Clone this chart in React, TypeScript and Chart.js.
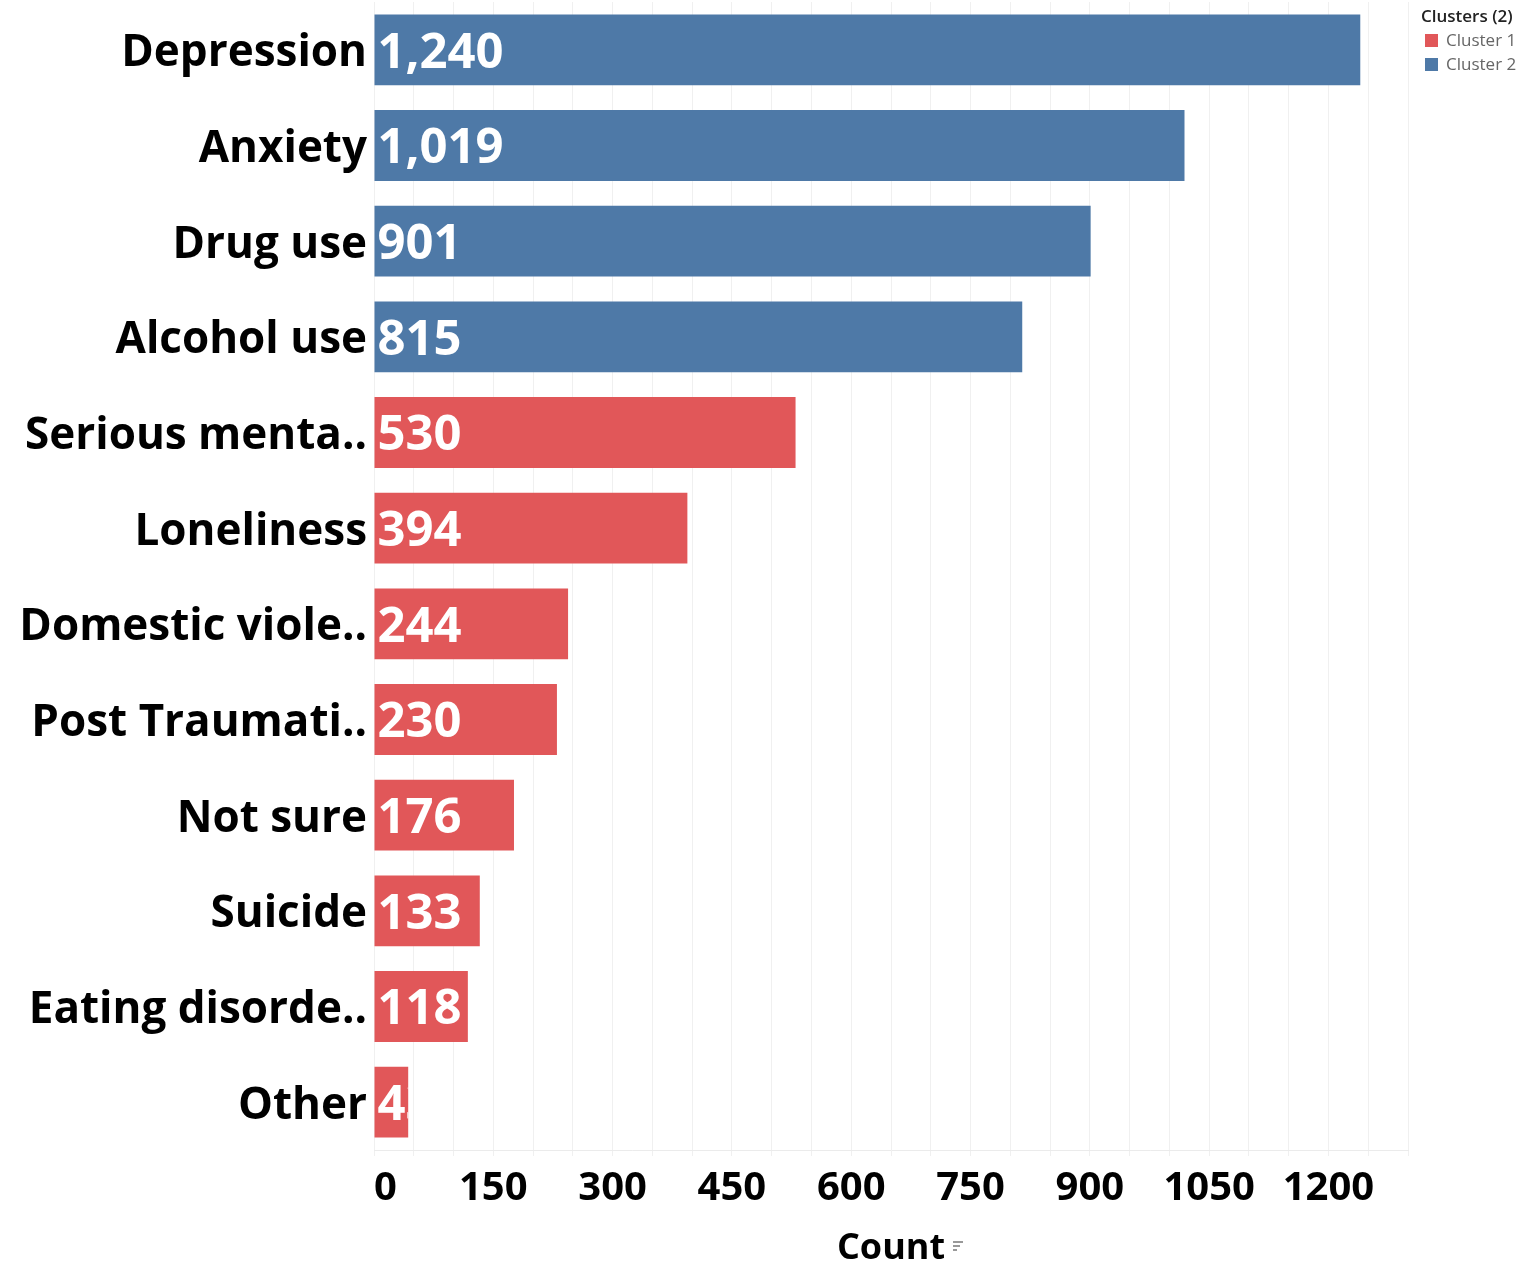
import React, { useEffect, useRef } from "react";
import { Chart, registerables } from "chart.js";

Chart.register(...registerables);

const categories = [
  "Depression",
  "Anxiety",
  "Drug use",
  "Alcohol use",
  "Serious menta..",
  "Loneliness",
  "Domestic viole..",
  "Post Traumati..",
  "Not sure",
  "Suicide",
  "Eating disorde..",
  "Other",
];
const counts = [1240, 1019, 901, 815, 530, 394, 244, 230, 176, 133, 118, 43];
const clusters = [2, 2, 2, 2, 1, 1, 1, 1, 1, 1, 1, 1];
const clusterNames = ["Cluster 1", "Cluster 2"];
const clusterColors = ["#e15759", "#4e79a7"];
const xTickLabels = [0, 150, 300, 450, 600, 750, 900, 1050, 1200];

const FONT = "'Open Sans', 'Noto Sans', sans-serif";

const labelPlugin = {
  id: "barLabels",
  afterDatasetsDraw(chart: any) {
    const ctx = chart.ctx;
    const meta = chart.getDatasetMeta(0);
    const yScale = chart.scales.y;
    // category labels
    ctx.save();
    ctx.fillStyle = "#000";
    ctx.font = `bold 44px ${FONT}`;
    ctx.textAlign = "right";
    ctx.textBaseline = "middle";
    categories.forEach((c, i) => {
      ctx.fillText(c, yScale.right - 7, yScale.getPixelForValue(i) + 4);
    });
    ctx.restore();
    // value labels
    meta.data.forEach((bar: any, i: number) => {
      const { x, y, base, height } = bar.getProps(["x", "y", "base", "height"], true);
      const left = Math.min(x, base);
      const right = Math.max(x, base);
      ctx.save();
      ctx.beginPath();
      ctx.rect(left, y - height / 2, right - left, height);
      ctx.clip();
      ctx.fillStyle = "#ffffff";
      ctx.font = `bold 49px ${FONT}`;
      ctx.textAlign = "left";
      ctx.textBaseline = "middle";
      ctx.fillText(counts[i].toLocaleString("en-US"), left + 3, y + 4);
      ctx.restore();
    });
  },
};

export default function App() {
  const ref = useRef<HTMLCanvasElement>(null);
  useEffect(() => {
    if (!ref.current) return;
    const chart = new Chart(ref.current, {
      type: "bar",
      data: {
        labels: categories,
        datasets: [
          {
            data: counts,
            backgroundColor: clusters.map((c) => clusterColors[c - 1]),
            barPercentage: 0.74,
            categoryPercentage: 1,
          },
        ],
      },
      options: {
        indexAxis: "y",
        animation: false,
        responsive: false,
        maintainAspectRatio: false,
        layout: { padding: { top: 2, right: 118, left: 0, bottom: 0 } },
        plugins: { legend: { display: false }, tooltip: { enabled: false } },
        scales: {
          x: {
            min: 0,
            max: 1300,
            ticks: {
              stepSize: 50,
              autoSkip: false,
              maxRotation: 0,
              align: "inner",
              color: "#000",
              font: { family: FONT, size: 40, weight: "bold" },
              padding: 9,
              callback: (v: any) => (xTickLabels.includes(Number(v)) ? String(v) : ""),
            },
            grid: { color: "#f0f0f0", tickLength: 6, drawTicks: true },
            border: { color: "#ebebeb" },
            title: {
              display: true,
              text: "Count",
              color: "#000",
              font: { family: FONT, size: 36, weight: "bold" },
              padding: { top: 0, bottom: -6 },
            },
            afterFit: (s: any) => {
              s.height = 114;
              s.paddingLeft = 0;
              s.paddingRight = 0;
            },
          },
          y: {
            ticks: {
              display: false,
            },
            grid: { display: false, drawTicks: false },
            border: { display: false },
            afterFit: (s: any) => {
              s.width = 374;
              s.paddingTop = 0;
              s.paddingBottom = 0;
            },
          },
        },
      },
      plugins: [labelPlugin],
    });
    return () => chart.destroy();
  }, []);

  return (
    <div style={{ position: "absolute", left: 0, top: 0, width: 1526, height: 1264, background: "#fff" }}>
      <canvas ref={ref} width={1526} height={1264} style={{ width: 1526, height: 1264 }} />
      <div
        style={{
          position: "absolute",
          left: 1421,
          top: 4,
          fontFamily: FONT,
          fontSize: 17,
          color: "#333",
          lineHeight: "24px",
        }}
      >
        <div style={{ fontWeight: 600, color: "#222" }}>Clusters (2)</div>
        {clusterNames.map((n, i) => (
          <div key={n} style={{ display: "flex", alignItems: "center", color: "#666" }}>
            <span
              style={{
                display: "inline-block",
                width: 13,
                height: 13,
                background: clusterColors[i],
                marginLeft: 4,
                marginRight: 8,
              }}
            />
            {n}
          </div>
        ))}
      </div>
      <div
        style={{
          position: "absolute",
          left: 953,
          top: 1241,
          fontSize: 10,
          color: "#888",
          lineHeight: "3px",
          fontFamily: FONT,
        }}
      >
        <div style={{ width: 10, height: 2, background: "#999", marginBottom: 2 }} />
        <div style={{ width: 7, height: 2, background: "#999", marginBottom: 2 }} />
        <div style={{ width: 4, height: 2, background: "#999" }} />
      </div>
    </div>
  );
}
